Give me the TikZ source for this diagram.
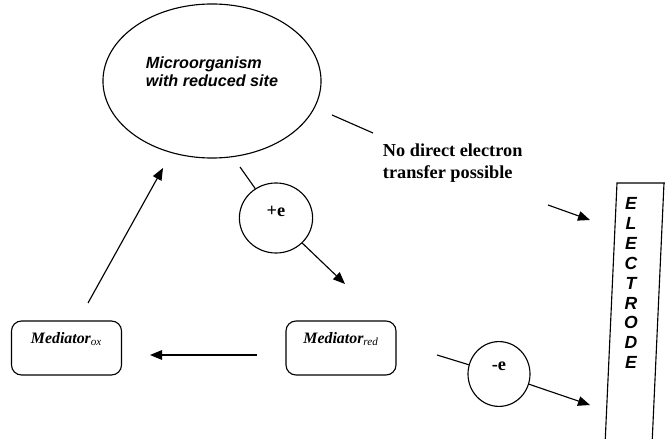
\documentclass[tikz,border=0pt]{standalone}
\usepackage{fontspec}
\setmainfont{Liberation Serif}
\newfontfamily\arialfont{Liberation Sans}
\usetikzlibrary{arrows.meta,shapes.geometric}

\begin{document}
\begin{tikzpicture}[x=0.025cm,y=-0.025cm,
  >={Triangle[length=3mm,width=2.4mm]},
  medbox/.style={draw,line width=0.8pt,rounded corners=2.5mm,
    minimum width=2.75cm,minimum height=1.35cm,text height=8pt,text depth=15pt,
    font=\bfseries\itshape\fontsize{11.3}{13}\selectfont},
  charge/.style={draw,ellipse,line width=0.8pt,
    font=\bfseries\fontsize{13}{15}\selectfont}]

\useasboundingbox (0,0) rectangle (665,439);

\node [draw,ellipse,line width=0.8pt,minimum width=5.45cm,minimum height=3.85cm,
  font=\arialfont\bfseries\itshape\fontsize{11.5}{12.5}\selectfont]
  (Mic) at (212,81) {\raisebox{2pt}[0pt][0pt]{\begin{tabular}{@{}l@{}}Microorganism\\with reduced site\end{tabular}}};
\node [anchor=west,align=left,font=\bfseries\fontsize{13}{15.6}\selectfont]
  (Txt) at (378,163) {No direct electron\\transfer possible};

\node [charge,minimum width=1.83cm,minimum height=1.75cm]
  (Pe) at (276,218) {\raisebox{1.2pt}[0pt][0pt]{+e}};
\node [charge,minimum width=1.55cm,minimum height=1.62cm]
  (Me) at (499,374) {\raisebox{2.5pt}[0pt][0pt]{-e}};

\node [medbox] (Mox) at (66.5,348) {Mediator\textsubscript{\mdseries ox}};
\node [medbox] (Mred) at (341,348) {Mediator\textsubscript{\mdseries red}};

% electrode plate
\draw [line width=0.8pt] (605,445) -- (617,183) -- (665,183);
\draw [line width=0.8pt] (664,183) -- (652,445);
\node [align=center,font=\arialfont\bfseries\itshape\fontsize{12.5}{14.2}\selectfont]
  (El) at (631,283) {E\\L\\E\\C\\T\\R\\O\\D\\E};

\coordinate (n1) at (332,115);
\coordinate (n2) at (373,133);
\coordinate (n3) at (548,205);
\coordinate (n4) at (590,220);
\coordinate (p1) at (240,167);
\coordinate (p2) at (345,284);
\coordinate (m1) at (437,355);
\coordinate (m2) at (590,405);
\coordinate (r1) at (257,355);
\coordinate (r2) at (150,355);
\coordinate (o1) at (88,303);
\coordinate (o2) at (163,168);

\draw [line width=0.8pt] (n1) -- (n2);
\draw [->,line width=0.8pt] (n3) -- (n4);
\draw [line width=0.8pt] (p1) -- (Pe);
\draw [->,line width=0.8pt] (Pe) -- (p2);
\draw [line width=0.8pt] (m1) -- (Me);
\draw [->,line width=0.8pt] (Me) -- (m2);
\draw [->,line width=0.8pt] (r1) -- (r2);
\draw [->,line width=0.8pt] (o1) -- (o2);

\end{tikzpicture}
\end{document}
